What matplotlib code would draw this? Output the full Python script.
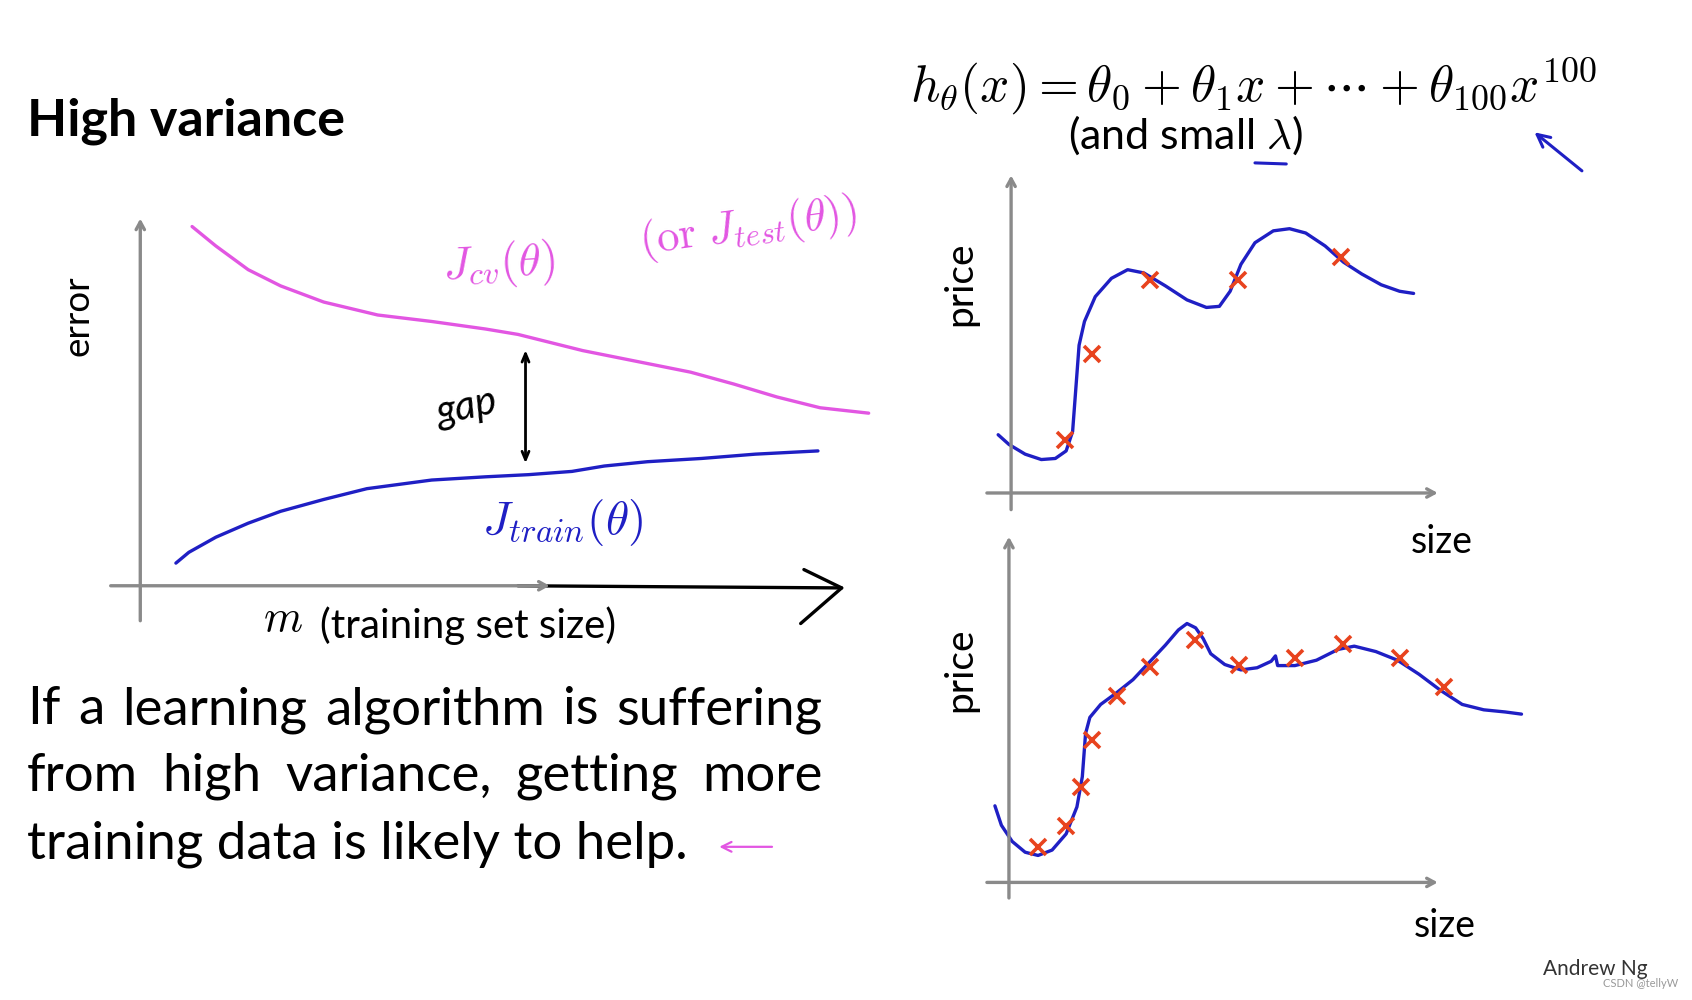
import numpy as np
import matplotlib.pyplot as plt

plt.rcParams['font.family'] = ['Lato', 'DejaVu Sans']
plt.rcParams['mathtext.fontset'] = 'cm'

# learning curves (left panel): training set size m vs error
m_cv = [4.8, 7.0, 10.0, 13.0, 17.0, 22.0, 27.0, 32.0, 35.0, 41.0, 47.0, 51.0, 55.0, 59.0, 63.0, 67.5]
err_cv = [33.3, 31.5, 29.3, 27.8, 26.3, 25.1, 24.5, 23.8, 23.3, 21.8, 20.6, 19.8, 18.7, 17.5, 16.5, 16.0]
m_train = [3.3, 4.5, 7.0, 10.0, 13.0, 17.0, 21.0, 27.0, 32.0, 36.0, 40.0, 43.0, 47.0, 52.0, 57.0, 62.8]
err_train = [2.1, 3.1, 4.5, 5.8, 6.9, 8.0, 9.0, 9.8, 10.1, 10.3, 10.6, 11.1, 11.5, 11.8, 12.2, 12.5]
gap_m = 35.7
gap_low, gap_high = 11.1, 22.1

# top right: few training examples, high-order fit
size_a = [5.0, 7.5, 12.9, 21.0, 30.6]
price_a = [4.9, 12.9, 19.7, 19.7, 21.9]
fit_a_size = [-1.2, -0.2, 1.3, 2.8, 4.1, 5.1, 5.7, 6.0, 6.3, 6.8, 7.8, 9.3, 10.8, 12.3, 14.3, 16.3,
              18.1, 19.3, 20.3, 21.3, 22.6, 24.3, 25.8, 27.3, 29.1, 30.8, 32.5, 34.3, 36.0, 37.3]
fit_a_price = [5.4, 4.5, 3.6, 3.1, 3.2, 3.9, 5.7, 9.7, 13.7, 15.9, 18.2, 19.9, 20.7, 20.4, 19.2, 17.9,
               17.2, 17.3, 18.7, 21.2, 23.2, 24.3, 24.5, 24.1, 22.9, 21.4, 20.3, 19.3, 18.7, 18.5]

# bottom right: more training examples
size_b = [2.7, 5.3, 6.7, 7.7, 10.0, 13.1, 17.2, 21.3, 26.5, 31.0, 36.2, 40.3]
price_b = [3.3, 5.2, 8.8, 13.2, 17.3, 20.0, 22.5, 20.2, 20.8, 22.1, 20.8, 18.1]
fit_b_size = [-1.3, -0.7, 0.3, 1.5, 2.7, 4.0, 5.3, 6.3, 6.8, 7.1, 7.5, 8.5, 10.0, 11.5, 13.0, 14.5,
              15.7, 16.5, 17.3, 18.0, 18.7, 20.0, 21.5, 23.0, 24.3, 24.7, 24.9, 26.5, 28.5, 30.5,
              32.0, 34.0, 36.0, 38.0, 40.0, 42.0, 44.0, 46.0, 47.5]
fit_b_price = [7.1, 5.3, 3.8, 2.8, 2.5, 3.0, 4.5, 7.0, 9.8, 13.8, 15.3, 16.5, 17.6, 18.8, 20.4, 22.0,
               23.4, 24.0, 23.6, 22.6, 21.2, 20.2, 19.7, 19.9, 20.5, 21.0, 20.1, 20.1, 20.6, 21.6,
               21.9, 21.4, 20.6, 19.3, 17.8, 16.5, 16.0, 15.8, 15.6]

paragraph = ["If a learning algorithm is suffering",
             "from high variance, getting more",
             "training data is likely to help."]

GRAY = '#8a8a8a'
PINK = '#e256e2'
BLUE = '#1f1fc4'
RED = '#e8431e'
W, H = 1568, 927  # layout grid

fig = plt.figure(figsize=(16.92, 10), dpi=100)
ov = fig.add_axes([0, 0, 1, 1])
ov.set_xlim(0, W)
ov.set_ylim(H, 0)
ov.axis('off')


def rect(x0, y0, x1, y1):
    return [x0 / W, 1 - y1 / H, (x1 - x0) / W, (y1 - y0) / H]


def axis_arrows(ax, x0, x1, y0, y1):
    arrow = dict(arrowstyle='->,head_length=0.55,head_width=0.3', color=GRAY, lw=2.4)
    ax.annotate('', xy=(x1, 0), xytext=(x0, 0), arrowprops=arrow)
    ax.annotate('', xy=(0, y1), xytext=(0, y0), arrowprops=arrow)


line_kw = dict(lw=2.4, solid_joinstyle='round', solid_capstyle='round')

# left panel
ax1 = fig.add_axes(rect(100, 195, 810, 580))
ax1.set_xlim(-3, 68)
ax1.set_ylim(-3.7, 34.8)
ax1.axis('off')
axis_arrows(ax1, -3.0, 38.2, -3.5, 34.3)
ax1.plot([35.0, 65.0], [0.0, -0.2], color='black', **line_kw)
ax1.plot([61.5, 65.0, 61.2], [1.5, -0.2, -3.5], color='black', **line_kw)
ax1.plot(m_cv, err_cv, color=PINK, **line_kw)
ax1.plot(m_train, err_train, color=BLUE, **line_kw)
ax1.annotate('', xy=(gap_m, gap_low), xytext=(gap_m, gap_high),
             arrowprops=dict(arrowstyle='<->,head_length=0.6,head_width=0.25', color='black', lw=2))

# top right panel
ax2 = fig.add_axes(rect(910, 155, 1340, 480))
ax2.set_xlim(-2.7, 40.3)
ax2.set_ylim(-2.3, 30.2)
ax2.axis('off')
axis_arrows(ax2, -2.5, 39.8, -1.8, 29.7)
ax2.plot(fit_a_size, fit_a_price, color=BLUE, **line_kw)
ax2.plot(size_a, price_a, 'x', color=RED, ms=11, mew=2.6)

# bottom right panel
ax3 = fig.add_axes(rect(910, 490, 1420, 840))
ax3.set_xlim(-2.5, 48.5)
ax3.set_ylim(-2.2, 32.8)
ax3.axis('off')
axis_arrows(ax3, -2.3, 40.0, -1.7, 32.3)
ax3.plot(fit_b_size, fit_b_price, color=BLUE, **line_kw)
ax3.plot(size_b, price_b, 'x', color=RED, ms=11, mew=2.6)

# texts
ov.text(25, 112, 'High variance', fontsize=37.5, fontweight='bold', va='center', ha='left')
ov.text(72, 293, 'error', fontsize=26.5, rotation=90, va='center', ha='center')
ov.text(262, 573, '$m$', fontsize=32, va='center', ha='center')
ov.text(297, 580, '(training set size)', fontsize=29, va='center', ha='left')
ov.text(462, 245, r'$J_{cv}(\theta)$', fontsize=33, color=PINK, va='center', ha='center', rotation=3)
ov.text(693, 212, r'$(\mathrm{or}\ J_{test}(\theta))$', fontsize=32, color=PINK,
        va='center', ha='center', rotation=8)
ov.text(432, 378, 'gap', fontsize=29, style='italic', va='center', ha='center', rotation=12)
ov.text(521, 484, r'$J_{train}(\theta)$', fontsize=34, color=BLUE, va='center', ha='center')

ov.text(1162, 80, r'$h_\theta(x) = \theta_0 + \theta_1 x + \cdots + \theta_{100}x^{100}$',
        fontsize=37, va='center', ha='center')
ov.text(1099, 125, r'(and small $\lambda$)', fontsize=31, va='center', ha='center')
ov.plot([1163, 1192], [151, 152], color=BLUE, lw=2.2, solid_capstyle='round')
ov.annotate('', xy=(1420, 121), xytext=(1468, 160),
            arrowprops=dict(arrowstyle='->,head_length=0.9,head_width=0.45', color=BLUE, lw=2.2))

ov.text(890, 263, 'price', fontsize=28, rotation=90, va='center', ha='center')
ov.text(1336, 502, 'size', fontsize=27, va='center', ha='center')
ov.text(890, 621, 'price', fontsize=28, rotation=90, va='center', ha='center')
ov.text(1339, 858, 'size', fontsize=27, va='center', ha='center')

ov.text(1478, 898, 'Andrew Ng', fontsize=15, color='#333333', va='center', ha='center')
ov.text(1520, 912, 'CSDN @tellyW', fontsize=8, color='#999999', va='center', ha='center')

# paragraph, first two lines justified
renderer = fig.canvas.get_renderer()
px_per_unit = fig.bbox.width / W
line_y = [658, 720, 783]
x_left, x_right = 25, 762
for i, line in enumerate(paragraph):
    if i == len(paragraph) - 1:
        ov.text(x_left, line_y[i], line, fontsize=38, va='center', ha='left')
        continue
    words = line.split()
    texts = [ov.text(0, line_y[i], w, fontsize=38, va='center', ha='left') for w in words]
    widths = [t.get_window_extent(renderer).width / px_per_unit for t in texts]
    gap = (x_right - x_left - sum(widths)) / (len(words) - 1)
    x = x_left
    for t, w in zip(texts, widths):
        t.set_x(x)
        x += w + gap

ov.annotate('', xy=(664, 785), xytext=(718, 785),
            arrowprops=dict(arrowstyle='->,head_length=0.7,head_width=0.35', color=PINK, lw=1.6))

fig.savefig('out.png', dpi=100)
